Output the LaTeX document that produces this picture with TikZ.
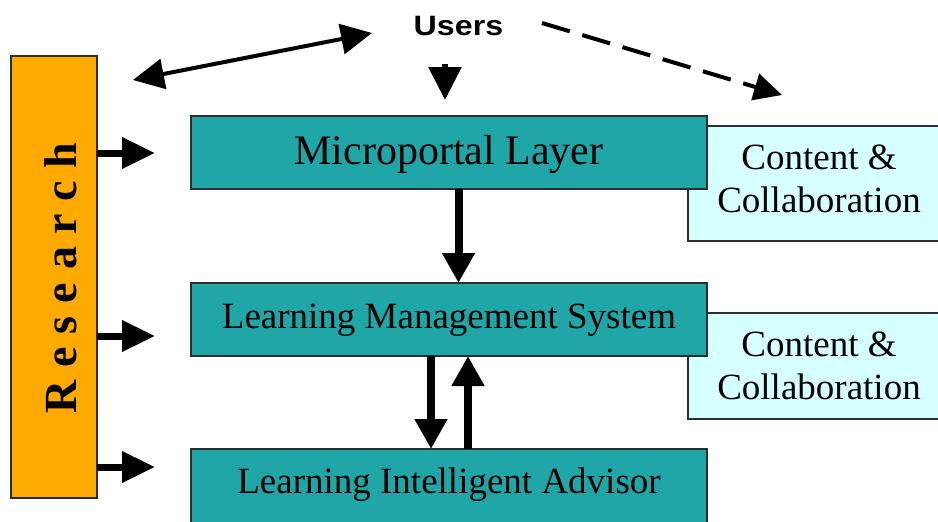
\documentclass[tikz,border=0pt]{standalone}
\usepackage{fontspec}
\setmainfont{Liberation Serif}
\newfontfamily\labelsans{Liberation Sans}
\newfontfamily\spacedserif[LetterSpace=28]{Liberation Serif}
\usetikzlibrary{arrows.meta}
\definecolor{tealbox}{RGB}{33,166,168}
\definecolor{orangebox}{RGB}{255,170,0}
\definecolor{cyanbox}{RGB}{214,255,255}
\definecolor{edgegray}{RGB}{45,45,45}

\begin{document}
\begin{tikzpicture}[x=1pt,y=-1pt,
  layer/.style={draw=edgegray, line width=1.3pt, fill=tealbox, minimum width=516pt,
    inner sep=0pt, outer sep=0pt, font=\fontsize{37}{44}\selectfont},
  ccbox/.style={draw=edgegray, line width=1.3pt, fill=cyanbox, inner sep=0pt, outer sep=0pt,
    minimum width=262pt, anchor=north west},
  cctext/.style={align=center, inner sep=0pt, font=\fontsize{37}{43}\selectfont},
  fatarrow/.style={line width=8pt, -{Triangle[length=30pt,width=31pt]}},
  sidearrow/.style={line width=7pt, -{Triangle[length=33pt,width=30pt]}},
  twohead/.style={line width=4pt, {Triangle[length=31pt,width=30pt]}-{Triangle[length=31pt,width=30pt]}},
]
\useasboundingbox (0,0) rectangle (938,522);
\fill[white] (0,0) rectangle (938,522);

% content boxes on the right, partly hidden by the layers
\node[ccbox, minimum height=115pt] (cc1) at (688,126) {};
\node[ccbox, minimum height=106pt] (cc2) at (688,313) {};
\node[cctext] (cc1text) at (819,179) {Content \&\\Collaboration};
\node[cctext] (cc2text) at (819,366) {Content \&\\Collaboration};

% the three layers
\node[layer, minimum height=73pt, text height=30pt, text depth=7pt,
  font=\fontsize{42}{50}\selectfont] (micro) at (449,152.5) {Microportal Layer};
\node[layer, minimum height=73pt, text height=26pt, text depth=9pt] (lms) at (449,319.5) {Learning Management System};
\node[layer, minimum height=96pt, text height=20pt, text depth=28pt] (lia) at (449,497) {Learning Intelligent Advisor};

% research column
\node[draw=edgegray, line width=1.3pt, fill=orangebox, minimum width=86pt, minimum height=442pt,
  inner sep=0pt, outer sep=0pt] (research) at (54,277) {};
\node[rotate=90, inner sep=0pt, font=\spacedserif\bfseries\fontsize{46}{54}\selectfont] (restext) at (60.5,278) {Research};

% users
\node[inner sep=0pt, anchor=base, xscale=1.15, font=\labelsans\bfseries\fontsize{28}{33}\selectfont] (users) at (458.5,35) {Users};

% free ends of the connectors
\coordinate (utip) at (445,100);
\coordinate (rtop) at (133,80);
\coordinate (utop) at (372,33);
\coordinate (dstart) at (542,23);
\coordinate (ccup) at (782,95);
\coordinate (r1) at (155,153);
\coordinate (r2) at (155,336);
\coordinate (r3) at (155,467);

% connectors
\draw[line width=6pt, shorten <=29pt, -{Triangle[length=33pt,width=32pt]}] ([xshift=-13.5pt]users.south) -- (utip);
\draw[twohead] (rtop) -- (utop);
\draw[line width=4pt, dash pattern=on 29pt off 13pt, -{Triangle[length=28pt,width=27pt]}] (dstart) -- (ccup);

\draw[sidearrow] (research.east |- r1) -- (r1);
\draw[sidearrow] (research.east |- r2) -- (r2);
\draw[sidearrow] (research.east |- r3) -- (r3);

\draw[fatarrow] ([xshift=9.5pt]micro.south) -- ([xshift=9.5pt]lms.north);
\draw[fatarrow] ([xshift=-18pt]lms.south) -- ([xshift=-18pt]lia.north);
\draw[fatarrow] ([xshift=19pt]lia.north) -- ([xshift=19pt]lms.south);
\end{tikzpicture}
\end{document}
